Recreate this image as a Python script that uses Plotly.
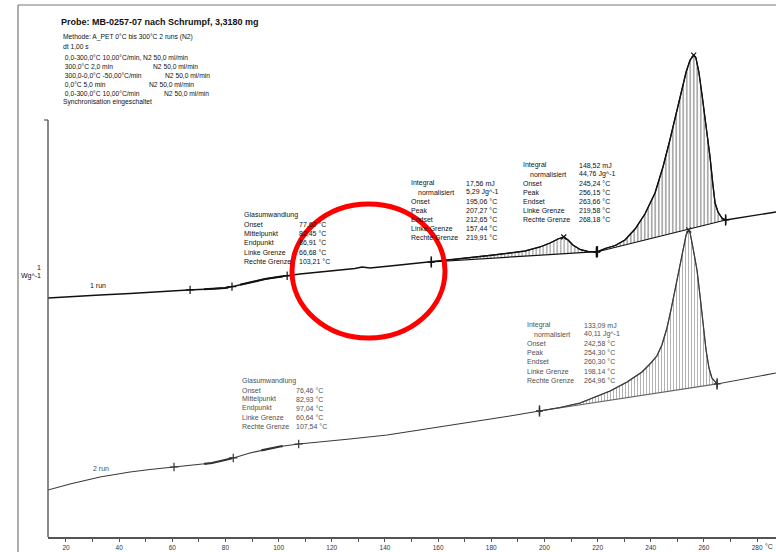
import numpy as np
import plotly.graph_objects as go

# ---------------------------------------------------------------- data
# Run 1 (first heating): temperature in °C, heat flow in W/g (traces offset)
run1_T = [13.2, 21.5, 32.8, 44.1, 55.4, 65.9, 74.2, 79.8, 83.6, 87.3, 91.1, 94.9, 98.6, 102.4,
          108.0, 115.6, 123.1, 128.7, 131.4, 134.4, 141.9, 149.4, 157.4, 164.5, 172.0, 179.5,
          187.0, 192.7, 198.3, 202.1, 205.1, 207.3, 208.9, 210.7, 213.4, 216.4, 219.6,
          222.8, 226.6, 230.3, 234.1, 237.8, 241.6, 244.6, 247.2, 249.5, 251.4, 253.3, 254.8,
          256.2, 257.0, 258.1, 259.3, 260.8, 262.3, 263.4, 264.2, 265.3, 266.8, 268.2,
          271.7, 277.3, 287.1]
run1_W = [2.42, 2.435, 2.45, 2.465, 2.485, 2.50, 2.51, 2.52, 2.54, 2.565, 2.59, 2.61, 2.625, 2.64,
          2.66, 2.68, 2.70, 2.715, 2.73, 2.72, 2.74, 2.76, 2.78, 2.80, 2.825, 2.845,
          2.87, 2.89, 2.93, 2.97, 3.01, 3.03, 3.00, 2.95, 2.905, 2.885, 2.88,
          2.915, 2.945, 3.00, 3.11, 3.26, 3.47, 3.73, 4.00, 4.25, 4.47, 4.68, 4.80,
          4.85, 4.82, 4.68, 4.45, 4.15, 3.83, 3.55, 3.37, 3.28, 3.22, 3.20,
          3.215, 3.235, 3.28]

# Run 2 (second heating)
run2_T = [13.2, 21.5, 32.8, 44.1, 51.6, 60.6, 68.5, 74.9, 79.8, 83.6,
          89.2, 95.6, 100.5, 107.5, 115.6, 126.8, 140.8, 153.2, 164.5, 178.4,
          187.0, 198.1, 205.9, 213.4, 218.3, 224.7, 231.1, 236.7, 239.7, 242.3,
          244.2, 246.1, 247.6, 249.1, 250.6, 252.1, 253.3, 254.3, 254.8, 255.9,
          257.4, 258.5, 259.7, 260.8, 261.9, 263.0, 265.0, 269.8, 277.3, 287.1]
run2_W = [0.50, 0.56, 0.63, 0.68, 0.705, 0.73, 0.75, 0.77, 0.80, 0.825,
          0.87, 0.91, 0.935, 0.96, 0.98, 1.01, 1.05, 1.10, 1.145, 1.20,
          1.24, 1.29, 1.325, 1.37, 1.42, 1.49, 1.58, 1.68, 1.76, 1.84,
          1.95, 2.12, 2.30, 2.50, 2.72, 2.92, 3.05, 3.10, 3.07, 2.92,
          2.70, 2.45, 2.15, 1.90, 1.72, 1.62, 1.56, 1.585, 1.62, 1.67]

# Evaluation results (values as printed)
glass_labels = ["Onset", "Mittelpunkt", "Endpunkt", "Linke Grenze", "Rechte Grenze"]
run1_glass = [77.62, 82.45, 86.91, 66.68, 103.21]
run2_glass = [76.46, 82.93, 97.04, 60.64, 107.54]

peak_labels = ["Integral", "normalisiert", "Onset", "Peak", "Endset", "Linke Grenze", "Rechte Grenze"]
peak_units = ["mJ", "Jg^-1", "°C", "°C", "°C", "°C", "°C"]
run1_peak1 = [17.56, 5.29, 195.06, 207.27, 212.65, 157.44, 219.91]
run1_peak2 = [148.52, 44.76, 245.24, 256.15, 263.66, 219.58, 268.18]
run2_peak = [133.09, 40.11, 242.58, 254.30, 260.30, 198.14, 264.96]

# Glass-transition tangent stretches drawn heavier
run1_tangents = [(72.0, 81.0), (85.5, 101.5)]
run2_tangents = [(72.0, 82.5), (93.5, 101.5)]

x_ticks = list(range(20, 281, 20))

header_title = "Probe: MB-0257-07 nach Schrumpf, 3,3180 mg"
method_lines = [
    ("Methode: A_PET 0°C bis 300°C 2 runs (N2)", None),
    ("dt 1,00 s", None),
    (" 0,0-300,0°C 10,00°C/min, N2 50,0 ml/min", None),
    (" 300,0°C 2,0 min", "N2 50,0 ml/min"),
    (" 300,0-0,0°C -50,00°C/min", "N2 50,0 ml/min"),
    (" 0,0°C 5,0 min", "N2 50,0 ml/min"),
    (" 0,0-300,0°C 10,00°C/min", "N2 50,0 ml/min"),
    ("Synchronisation eingeschaltet", None),
]

# ---------------------------------------------------------------- layout geometry
W_PX, H_PX = 776, 552
M_L, M_R, M_T, M_B = 48, 0, 40, 15
PLOT_W = W_PX - M_L - M_R
PLOT_H = H_PX - M_T - M_B
X_RANGE = [13.23, 287.12]
Y_RANGE = [0.03, 5.0]


def px(x):
    """page pixel column -> paper x"""
    return (x - M_L) / PLOT_W


def py(y):
    """page pixel row -> paper y"""
    return (H_PX - M_B - y) / PLOT_H


def de(v, nd=2):
    return f"{v:.{nd}f}".replace(".", ",")


FONT = "Liberation Sans, Arial, sans-serif"
INK1 = "#111111"
INK2 = "#505050"

fig = go.Figure()

T1, W1 = np.array(run1_T), np.array(run1_W)
T2, W2 = np.array(run2_T), np.array(run2_W)


def hatched_peak(T, W, left, right, color, spacing, solidity):
    wl, wr = np.interp([left, right], T, W)
    # straight integration baseline
    fig.add_trace(go.Scatter(x=[left, right], y=[wl, wr], mode="lines",
                             line=dict(color=color, width=1.2), hoverinfo="skip", showlegend=False))
    m = (T > left) & (T < right)
    xs = np.concatenate([[left], T[m], [right]])
    ys = np.concatenate([[wl], W[m], [wr]])
    fig.add_trace(go.Scatter(x=xs, y=ys, mode="lines", line=dict(color=color, width=1.2),
                             fill="tonexty", fillcolor="rgba(0,0,0,0)",
                             fillpattern=dict(shape="|", size=spacing, solidity=solidity,
                                              fgcolor=color, bgcolor="rgba(255,255,255,0)"),
                             hoverinfo="skip", showlegend=False))
    return wl, wr


# hatched peak areas
hatched_peak(T1, W1, run1_peak1[5], run1_peak1[6], INK1, 3.5, 0.3)
hatched_peak(T1, W1, run1_peak2[5], run1_peak2[6], INK1, 3.5, 0.35)
hatched_peak(T2, W2, run2_peak[5], run2_peak[6], "#666666", 3, 0.35)

# curves
fig.add_trace(go.Scatter(x=T1, y=W1, mode="lines", line=dict(color=INK1, width=1.3),
                         name="1 run", showlegend=False))
fig.add_trace(go.Scatter(x=T2, y=W2, mode="lines", line=dict(color="#3a3a3a", width=1.1),
                         name="2 run", showlegend=False))

# tangent stretches of the glass transition
for T, W, spans, col in [(T1, W1, run1_tangents, INK1), (T2, W2, run2_tangents, "#333333")]:
    for a, b in spans:
        m = (T >= a) & (T <= b)
        xs = np.concatenate([[a], T[m], [b]])
        ys = np.interp(xs, T, W)
        fig.add_trace(go.Scatter(x=xs, y=ys, mode="lines", line=dict(color=col, width=2.2),
                                 hoverinfo="skip", showlegend=False))


def marks(T, W, temps, symbol, size, col, width=1.2):
    temps = np.array(temps)
    fig.add_trace(go.Scatter(x=temps, y=np.interp(temps, T, W), mode="markers",
                             marker=dict(symbol=symbol, size=size, color=col,
                                         line=dict(color=col, width=width)),
                             hoverinfo="skip", showlegend=False))


# glass transition limits / midpoint
marks(T1, W1, [run1_glass[3], run1_glass[1], run1_glass[4]], "cross-thin", 6, INK1)
marks(T2, W2, [run2_glass[3], run2_glass[1], run2_glass[4]], "cross-thin", 6, "#333333")
# integration limits
for T, W, vals, col in [(T1, W1, run1_peak1, INK1), (T1, W1, run1_peak2, INK1), (T2, W2, run2_peak, "#333333")]:
    marks(T, W, [vals[5], vals[6]], "line-ns", 8, col, 1.5)
    marks(T, W, [vals[5], vals[6]], "cross-thin", 5, col, 1.3)
    marks(T, W, [vals[3]], "x-thin", 5, col, 1.2)

# ---------------------------------------------------------------- text
ann = []


def text(x, y, s, size=7.0, color=INK1, bold=False, anchor="left"):
    ann.append(dict(x=px(x), y=py(y), xref="paper", yref="paper", text=f"<b>{s}</b>" if bold else s,
                    showarrow=False, xanchor=anchor, yanchor="middle",
                    font=dict(family=FONT, size=size, color=color)))


text(59, 22, header_title, size=9.0, bold=True)
rows = [37, 47, 57, 66, 75, 84, 93, 102]
second_col = [None, None, None, 151, 163, 147, 162, None]
for (a, b), y, xc in zip(method_lines, rows, second_col):
    text(61, y, a, size=6.7)
    if b:
        text(xc, y, b, size=6.7)


def glass_block(x_lab, x_val, y0, dy, vals, color):
    text(x_lab, y0, "Glasumwandlung", color=color)
    for i, (lab, v) in enumerate(zip(glass_labels, vals)):
        y = y0 + (i + 1) * dy
        text(x_lab, y, lab, color=color)
        text(x_val, y, f"{de(v)} °C", color=color)


def peak_block(x_lab, x_val, y0, dy, vals, color):
    for i, (lab, v, u) in enumerate(zip(peak_labels, vals, peak_units)):
        y = y0 + i * dy
        text(x_lab + (7 if i == 1 else 0), y, lab, color=color)
        text(x_val, y, f"{de(v)} {u}", color=color)


glass_block(242, 297, 215, 9.3, run1_glass, INK1)
peak_block(409, 464, 183, 9.1, run1_peak1, INK1)
peak_block(521, 577, 165, 9.0, run1_peak2, INK1)
peak_block(525, 582, 325, 9.2, run2_peak, INK2)
glass_block(240, 294, 381, 9.0, run2_glass, INK2)

text(88, 285, "1 run")
text(91, 468, "2 run", color=INK2)
text(43, 267, "1", anchor="right")
text(43, 276, "Wg^-1", anchor="right")
text(775, 546, "°C", size=7, color="#333333", anchor="right")

# ---------------------------------------------------------------- frame & annotations
shapes = [
    # page frame
    dict(type="line", xref="paper", yref="paper", x0=px(18), x1=px(18), y0=py(5), y1=py(552),
         line=dict(color="#777777", width=1.2)),
    dict(type="line", xref="paper", yref="paper", x0=px(18), x1=px(780), y0=py(5), y1=py(5),
         line=dict(color="#777777", width=1.2)),
    # heat-flow axis
    dict(type="line", xref="paper", yref="paper", x0=0, x1=0, y0=py(120), y1=0,
         line=dict(color="#555555", width=1.4)),
    dict(type="line", xref="paper", yref="paper", x0=px(44), x1=0, y0=py(120), y1=py(120),
         line=dict(color="#555555", width=1.2)),
    # red marking ring
    dict(type="circle", xref="paper", yref="paper", x0=px(292), x1=px(445), y0=py(338), y1=py(204),
         line=dict(color="#ff0000", width=5)),
]

fig.update_layout(
    width=W_PX, height=H_PX,
    margin=dict(l=M_L, r=M_R, t=M_T, b=M_B, pad=0),
    paper_bgcolor="white", plot_bgcolor="white",
    annotations=ann, shapes=shapes, showlegend=False,
    xaxis=dict(range=X_RANGE, showgrid=False, zeroline=False, showline=True,
               linecolor="#555555", linewidth=2, ticks="outside", ticklen=3, tickwidth=1,
               tickcolor="#555555", tickvals=x_ticks, ticktext=[str(t) for t in x_ticks],
               tickfont=dict(family=FONT, size=6.5, color="#333333"), automargin=False,
               minor=dict(ticks="outside", dtick=10, tick0=10, ticklen=3, tickcolor="#555555")),
    yaxis=dict(range=Y_RANGE, visible=False, showgrid=False, zeroline=False, automargin=False),
)

fig.write_html("out.html")
